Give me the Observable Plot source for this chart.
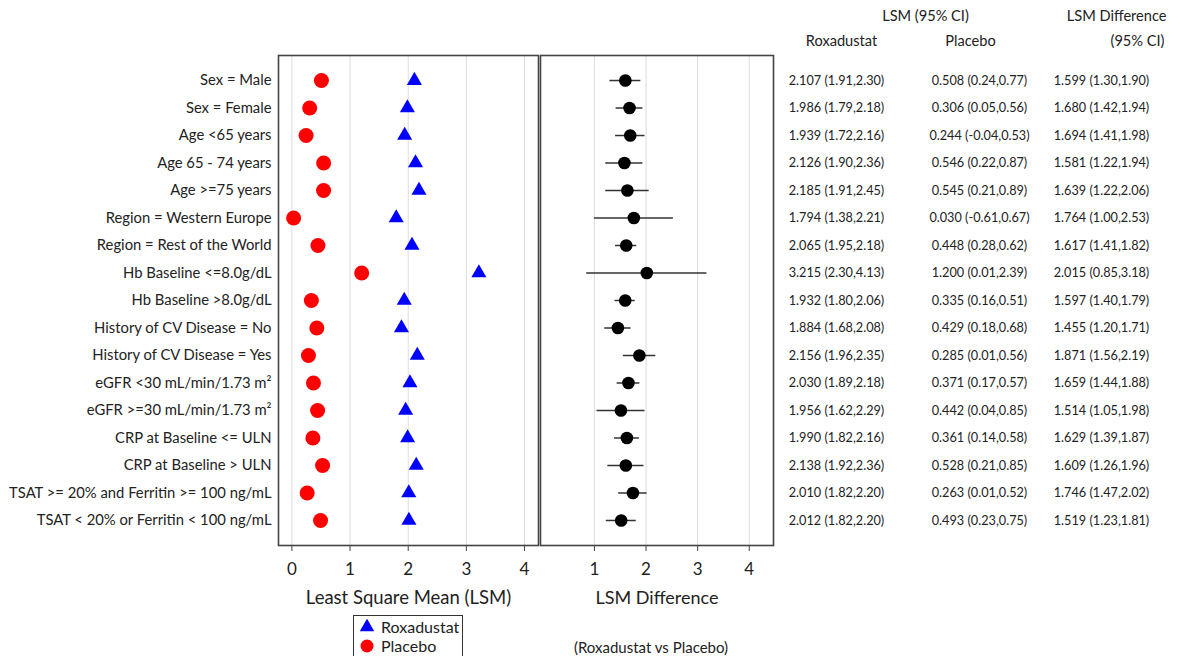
<!DOCTYPE html>
<html>
<head>
<meta charset="utf-8">
<script src="https://cdn.jsdelivr.net/npm/d3@7"></script>
<script src="https://cdn.jsdelivr.net/npm/@observablehq/plot@0.6"></script>
<style>
  html, body { margin: 0; padding: 0; background: #fff; }
  #chart { position: relative; width: 1180px; height: 656px; overflow: hidden; background: #fff;
           font-family: Lato, "Open Sans", sans-serif; color: #222; }
  #chart > svg, #chart > div { position: absolute; }
  .legend { left: 353px; top: 615px; width: 110px; height: 44px; border: 1.5px solid #333;
            box-sizing: border-box; font-size: 16px; line-height: 19px; padding-top: 1px; }
  .legend div { display: flex; align-items: center; height: 19px; }
  .legend svg { width: 20px; height: 16px; margin-left: 3px; margin-right: 4px; }
</style>
</head>
<body>
<div id="chart"></div>
<script>
// Subgroup analysis: least square mean of Hb change (Roxadustat vs Placebo)
const subgroups = [
  "Sex = Male", "Sex = Female", "Age <65 years", "Age 65 - 74 years", "Age >=75 years",
  "Region = Western Europe", "Region = Rest of the World", "Hb Baseline <=8.0g/dL",
  "Hb Baseline >8.0g/dL", "History of CV Disease = No", "History of CV Disease = Yes",
  "eGFR <30 mL/min/1.73 m²", "eGFR >=30 mL/min/1.73 m²", "CRP at Baseline <= ULN",
  "CRP at Baseline > ULN", "TSAT >= 20% and Ferritin >= 100 ng/mL", "TSAT < 20% or Ferritin < 100 ng/mL"
];
const roxLsm = [2.107, 1.986, 1.939, 2.126, 2.185, 1.794, 2.065, 3.215, 1.932, 1.884, 2.156, 2.030, 1.956, 1.990, 2.138, 2.010, 2.012];
const roxLo  = [1.91, 1.79, 1.72, 1.90, 1.91, 1.38, 1.95, 2.30, 1.80, 1.68, 1.96, 1.89, 1.62, 1.82, 1.92, 1.82, 1.82];
const roxHi  = [2.30, 2.18, 2.16, 2.36, 2.45, 2.21, 2.18, 4.13, 2.06, 2.08, 2.35, 2.18, 2.29, 2.16, 2.36, 2.20, 2.20];
const plcLsm = [0.508, 0.306, 0.244, 0.546, 0.545, 0.030, 0.448, 1.200, 0.335, 0.429, 0.285, 0.371, 0.442, 0.361, 0.528, 0.263, 0.493];
const plcLo  = [0.24, 0.05, -0.04, 0.22, 0.21, -0.61, 0.28, 0.01, 0.16, 0.18, 0.01, 0.17, 0.04, 0.14, 0.21, 0.01, 0.23];
const plcHi  = [0.77, 0.56, 0.53, 0.87, 0.89, 0.67, 0.62, 2.39, 0.51, 0.68, 0.56, 0.57, 0.85, 0.58, 0.85, 0.52, 0.75];
const difLsm = [1.599, 1.680, 1.694, 1.581, 1.639, 1.764, 1.617, 2.015, 1.597, 1.455, 1.871, 1.659, 1.514, 1.629, 1.609, 1.746, 1.519];
const difLo  = [1.30, 1.42, 1.41, 1.22, 1.22, 1.00, 1.41, 0.85, 1.40, 1.20, 1.56, 1.44, 1.05, 1.39, 1.26, 1.47, 1.23];
const difHi  = [1.90, 1.94, 1.98, 1.94, 2.06, 2.53, 1.82, 3.18, 1.79, 1.71, 2.19, 1.88, 1.98, 1.87, 1.96, 2.02, 1.81];
const lsmTicks = [0, 1, 2, 3, 4];
const difTicks = [1, 2, 3, 4];

const fmt = (v, lo, hi) => `${v.toFixed(3)} (${lo.toFixed(2)},${hi.toFixed(2)})`;
const rows = subgroups.map((label, i) => ({
  label,
  rox: roxLsm[i], plc: plcLsm[i], dif: difLsm[i], difLo: difLo[i], difHi: difHi[i],
  roxText: fmt(roxLsm[i], roxLo[i], roxHi[i]),
  plcText: fmt(plcLsm[i], plcLo[i], plcHi[i]),
  difText: fmt(difLsm[i], difLo[i], difHi[i])
}));

const font = "Lato, 'Open Sans', sans-serif";
const H = 656, MT = 55, MB = 111;
const yScale = { type: "point", domain: subgroups, padding: 0.91, round: false, label: null };
const gridColor = "#dcdcdc", frameColor = "#444", ink = "#222";
const root = document.getElementById("chart");

function place(svg, left) {
  svg.style.left = left + "px";
  svg.style.top = "0px";
  root.appendChild(svg);
}

// Left panel: LSM of each arm
const lsmPlot = Plot.plot({
  width: 540, height: H,
  marginLeft: 278, marginRight: 2, marginTop: MT, marginBottom: MB,
  style: { fontFamily: font, color: ink, background: "transparent", overflow: "visible" },
  x: { domain: [-0.23, 4.24], label: null },
  y: yScale,
  marks: [
    Plot.gridX(lsmTicks, { stroke: gridColor, strokeOpacity: 1 }),
    Plot.frame({ stroke: frameColor, strokeWidth: 1.6 }),
    Plot.axisX(lsmTicks, { tickSize: 6, tickPadding: 11, fontSize: 17, stroke: "#444", label: null }),
    Plot.axisY({ tickSize: 0, tickPadding: 7, fontSize: 14.8, label: null }),
    Plot.dot(rows, { x: "plc", y: "label", r: 7.5, fill: "#ff0000", symbol: "circle" }),
    Plot.dot(rows, { x: "rox", y: "label", r: 5.6, fill: "#0000ff", symbol: "triangle" }),
    Plot.text(["Least Square Mean (LSM)"], { frameAnchor: "bottom", dy: 58, fontSize: 18.5, fill: ink })
  ]
});
place(lsmPlot, 0);

// Right panel: LSM difference with 95% CI
const difPlot = Plot.plot({
  width: 238, height: H,
  marginLeft: 2, marginRight: 3, marginTop: MT, marginBottom: MB,
  style: { fontFamily: font, color: ink, background: "transparent", overflow: "visible" },
  x: { domain: [-0.045, 4.47], label: null },
  y: { ...yScale, axis: null },
  marks: [
    Plot.gridX(difTicks, { stroke: gridColor, strokeOpacity: 1 }),
    Plot.frame({ stroke: frameColor, strokeWidth: 1.6 }),
    Plot.axisX(difTicks, { tickSize: 6, tickPadding: 11, fontSize: 17, stroke: "#444", label: null }),
    Plot.ruleY(rows, { x1: "difLo", x2: "difHi", y: "label", stroke: "#333", strokeWidth: 1.5 }),
    Plot.dot(rows, { x: "dif", y: "label", r: 6.3, fill: "#000" }),
    Plot.text(["LSM Difference"], { frameAnchor: "bottom", dy: 58, fontSize: 18, fill: ink }),
    Plot.text(["(Roxadustat vs Placebo)"], { frameAnchor: "bottom", dx: -6, dy: 107, fontSize: 15, fill: ink })
  ]
});
place(difPlot, 538);

// Table of estimates
const tableLeft = 775;
const colRox = 836 - tableLeft, colPlc = 979 - tableLeft, colDif = 1101 - tableLeft;
const cell = { frameAnchor: "left", textAnchor: "middle", fontSize: 12.7, fill: ink };
const head = { frameAnchor: "top-left", textAnchor: "middle", fontSize: 14.6, fill: ink };
const tablePlot = Plot.plot({
  width: 1180 - tableLeft, height: H,
  marginLeft: 0, marginRight: 0, marginTop: MT, marginBottom: MB,
  style: { fontFamily: font, color: ink, background: "transparent", overflow: "visible" },
  y: { ...yScale, axis: null },
  marks: [
    Plot.text(rows, { ...cell, y: "label", text: "roxText", dx: colRox }),
    Plot.text(rows, { ...cell, y: "label", text: "plcText", dx: colPlc }),
    Plot.text(rows, { ...cell, y: "label", text: "difText", dx: colDif }),
    Plot.text(["LSM (95% CI)"], { ...head, dx: 925 - tableLeft, dy: -45 }),
    Plot.text(["Roxadustat"], { ...head, dx: 841 - tableLeft, dy: -20 }),
    Plot.text(["Placebo"], { ...head, dx: 970 - tableLeft, dy: -20 }),
    Plot.text(["LSM Difference"], { ...head, textAnchor: "end", dx: 1166 - tableLeft, dy: -45 }),
    Plot.text(["(95% CI)"], { ...head, textAnchor: "end", dx: 1164 - tableLeft, dy: -20 })
  ]
});
place(tablePlot, tableLeft);

// Legend
const legend = document.createElement("div");
legend.className = "legend";
legend.innerHTML = `
  <div><svg viewBox="-8 -8 16 16"><path d="${d3.symbol(d3.symbolTriangle, 90)()}" fill="#0000ff"/></svg>Roxadustat</div>
  <div><svg viewBox="-8 -8 16 16"><circle r="6.5" fill="#ff0000"/></svg>Placebo</div>`;
root.appendChild(legend);
</script>
</body>
</html>
